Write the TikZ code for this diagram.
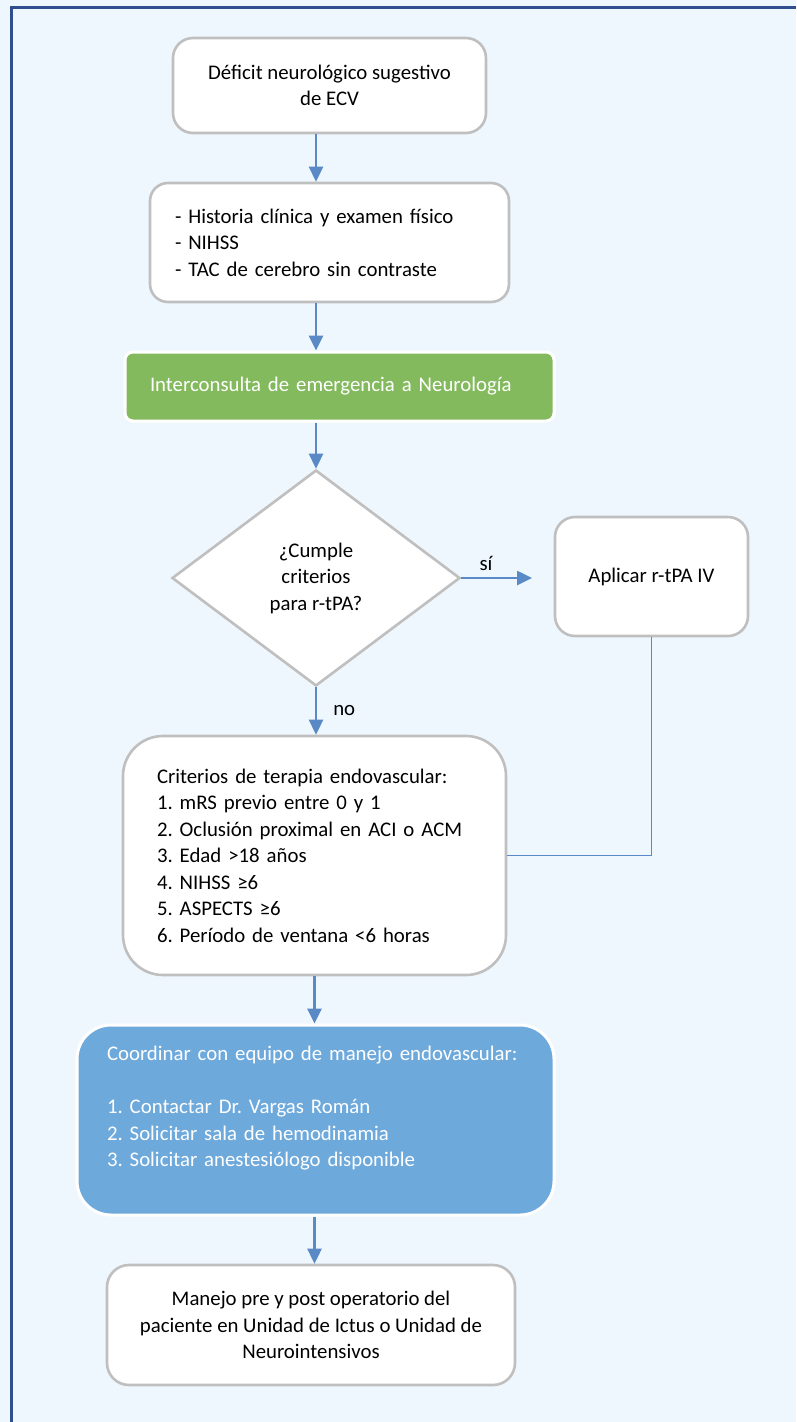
\documentclass[tikz,border=0pt]{standalone}
\usepackage{fontspec}
\setmainfont{Carlito}
\usetikzlibrary{positioning,arrows.meta,shapes.geometric}
\frenchspacing

\definecolor{pagebg}{HTML}{EFF7FE}
\definecolor{framecol}{HTML}{2F4E8E}
\definecolor{boxgray}{HTML}{BFBFBF}
\definecolor{flowblue}{HTML}{5A8AC6}
\definecolor{neurogreen}{HTML}{84BA5E}
\definecolor{endoblue}{HTML}{6EA9DC}

\newcommand{\flowfont}{\fontsize{20.8}{26.5}\selectfont}

\tikzset{
  box/.style={draw=boxgray, line width=2.6pt, fill=white, rounded corners=20pt,
    font=\flowfont, inner sep=0pt},
  greenbox/.style={draw=white, line width=3pt, fill=neurogreen, rounded corners=8pt,
    text=white, font=\flowfont, inner sep=0pt},
  bluebox/.style={draw=white, line width=3pt, fill=endoblue, rounded corners=34pt,
    text=white, font=\flowfont, inner sep=0pt},
  decision/.style={diamond, draw=boxgray, line width=2.6pt, fill=white,
    font=\flowfont, align=center, inner sep=0pt},
  flowarrow/.style={draw=flowblue, line width=2.6pt, -{Triangle[length=15pt,width=14pt]}},
  linkline/.style={draw=flowblue, line width=1.2pt},
  lbl/.style={font=\flowfont, inner sep=2pt}
}

\begin{document}
\begin{tikzpicture}[x=1pt,y=-1pt]
\useasboundingbox (0,0) rectangle (796,1422);
\fill[pagebg] (0,0) rectangle (796,1422);
\draw[framecol, line width=3pt] (11,1422) -- (11,7) -- (796,7);

% boxes
\node[box, minimum width=313pt, minimum height=95pt, align=center] (deficit) at (329.5,85.5)
  {Déficit neurológico sugestivo\\de ECV};
\node[box, rounded corners=18pt, text width=309pt, inner xsep=25pt, minimum height=119pt, align=left] (historia) at (329.5,242.5)
  {- Historia clínica y examen físico\\- NIHSS\\- TAC de cerebro sin contraste};
\node[greenbox, text width=379pt, inner xsep=25pt, minimum height=69pt, align=left] (interconsulta) at (339.5,386.5)
  {Interconsulta de emergencia a Neurología};
\node[decision, minimum width=288pt, minimum height=216pt] (decide) at (316,578)
  {¿Cumple\\criterios\\para r-tPA?};
\node[box, minimum width=193pt, minimum height=119pt] (aplicar) at (651.5,576.5)
  {Aplicar r-tPA IV};
\node[box, rounded corners=40pt, text width=315pt, inner xsep=34pt, minimum height=239pt, align=left] (criterios) at (314.5,855.5)
  {Criterios de terapia endovascular:\\
   1. mRS previo entre 0 y 1\\
   2. Oclusión proximal en ACI o ACM\\
   3. Edad >18 años\\
   4. NIHSS ≥6\\
   5. ASPECTS ≥6\\
   6. Período de ventana <6 horas};
\node[bluebox, text width=417pt, inner xsep=30pt, minimum height=190pt, align=left] (coordinar) at (315.5,1120)
  {Coordinar con equipo de manejo endovascular:\\
   \mbox{}\\
   1. Contactar Dr. Vargas Román\\
   2. Solicitar sala de hemodinamia\\
   3. Solicitar anestesiólogo disponible\\
   \mbox{}};
\node[box, rounded corners=22pt, minimum width=408pt, minimum height=120pt, align=center] (manejo) at (311,1325)
  {Manejo pre y post operatorio del\\paciente en Unidad de Ictus o Unidad de\\Neurointensivos};

% connectors
\coordinate (siend) at (532,578);
\draw[flowarrow] (deficit.south -| decide.north) -- (historia.north -| decide.north);
\draw[flowarrow] (historia.south -| decide.north) -- (interconsulta.north -| decide.north);
\draw[flowarrow] (interconsulta.south -| decide.north) -- (decide.north);
\draw[flowarrow] (decide.east) -- (siend) node[lbl, pos=0.35, above=4pt] {sí};
\draw[flowarrow] (decide.south) -- (criterios.north -| decide.south) node[lbl, midway, right=14pt] {no};
\draw[linkline] (aplicar.south) |- (criterios.east);
\draw[flowarrow] (criterios.south) -- (coordinar.north -| criterios.south);
\draw[flowarrow] (coordinar.south -| criterios.south) -- (manejo.north -| criterios.south);
\end{tikzpicture}
\end{document}
